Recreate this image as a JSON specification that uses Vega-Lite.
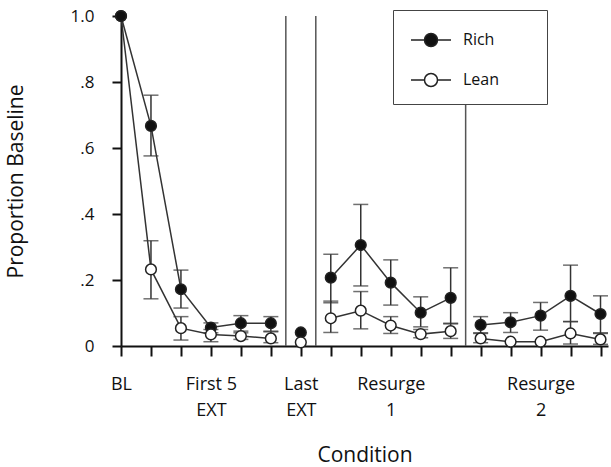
{
  "$schema": "https://vega.github.io/schema/vega-lite/v6.json",
  "width": 487,
  "height": 330,
  "autosize": "none",
  "padding": {"left": 121, "top": 16, "right": 3, "bottom": 121},
  "background": "white",
  "config": {
    "view": {"stroke": null},
    "font": "Open Sans",
    "axis": {
      "grid": false,
      "domainColor": "#111",
      "tickColor": "#111",
      "domainWidth": 2,
      "tickWidth": 2,
      "labelColor": "#111",
      "titleColor": "#111",
      "labelFont": "Open Sans",
      "titleFont": "Open Sans",
      "titleFontWeight": "normal"
    }
  },
  "resolve": {"axis": {"x": "independent"}},
  "datasets": {
    "pts": [
      {"series": "Rich", "idx": 1, "seg": "a", "v": 0.667, "lo": 0.576, "hi": 0.76},
      {"series": "Rich", "idx": 2, "seg": "a", "v": 0.172, "lo": 0.115, "hi": 0.23},
      {"series": "Rich", "idx": 3, "seg": "a", "v": 0.056, "lo": 0.04, "hi": 0.07},
      {"series": "Rich", "idx": 4, "seg": "a", "v": 0.069, "lo": 0.045, "hi": 0.092},
      {"series": "Rich", "idx": 5, "seg": "a", "v": 0.069, "lo": 0.045, "hi": 0.089},
      {"series": "Rich", "idx": 6, "seg": "b", "v": 0.041, "lo": null, "hi": null},
      {"series": "Rich", "idx": 7, "seg": "c", "v": 0.207, "lo": 0.131, "hi": 0.278},
      {"series": "Rich", "idx": 8, "seg": "c", "v": 0.306, "lo": 0.182, "hi": 0.429},
      {"series": "Rich", "idx": 9, "seg": "c", "v": 0.192, "lo": 0.124, "hi": 0.261},
      {"series": "Rich", "idx": 10, "seg": "c", "v": 0.101, "lo": 0.058, "hi": 0.149},
      {"series": "Rich", "idx": 11, "seg": "c", "v": 0.146, "lo": 0.067, "hi": 0.237},
      {"series": "Rich", "idx": 12, "seg": "d", "v": 0.064, "lo": 0.038, "hi": 0.089},
      {"series": "Rich", "idx": 13, "seg": "d", "v": 0.072, "lo": 0.041, "hi": 0.101},
      {"series": "Rich", "idx": 14, "seg": "d", "v": 0.092, "lo": 0.048, "hi": 0.132},
      {"series": "Rich", "idx": 15, "seg": "d", "v": 0.152, "lo": 0.074, "hi": 0.245},
      {"series": "Rich", "idx": 16, "seg": "d", "v": 0.097, "lo": 0.038, "hi": 0.152},
      {"series": "Lean", "idx": 0, "seg": "a", "v": 1.0, "lo": null, "hi": null},
      {"series": "Lean", "idx": 1, "seg": "a", "v": 0.232, "lo": 0.143, "hi": 0.319},
      {"series": "Lean", "idx": 2, "seg": "a", "v": 0.054, "lo": 0.018, "hi": 0.089},
      {"series": "Lean", "idx": 3, "seg": "a", "v": 0.035, "lo": 0.013, "hi": 0.05},
      {"series": "Lean", "idx": 4, "seg": "a", "v": 0.03, "lo": 0.02, "hi": 0.04},
      {"series": "Lean", "idx": 5, "seg": "a", "v": 0.023, "lo": 0.01, "hi": 0.043},
      {"series": "Lean", "idx": 6, "seg": "b", "v": 0.011, "lo": null, "hi": null},
      {"series": "Lean", "idx": 7, "seg": "c", "v": 0.084, "lo": 0.041, "hi": 0.136},
      {"series": "Lean", "idx": 8, "seg": "c", "v": 0.107, "lo": 0.052, "hi": 0.165},
      {"series": "Lean", "idx": 9, "seg": "c", "v": 0.062, "lo": 0.038, "hi": 0.089},
      {"series": "Lean", "idx": 10, "seg": "c", "v": 0.036, "lo": 0.025, "hi": 0.05},
      {"series": "Lean", "idx": 11, "seg": "c", "v": 0.045, "lo": 0.023, "hi": 0.069},
      {"series": "Lean", "idx": 12, "seg": "d", "v": 0.023, "lo": 0.01, "hi": 0.04},
      {"series": "Lean", "idx": 13, "seg": "d", "v": 0.013, "lo": null, "hi": null},
      {"series": "Lean", "idx": 14, "seg": "d", "v": 0.013, "lo": null, "hi": null},
      {"series": "Lean", "idx": 15, "seg": "d", "v": 0.038, "lo": 0.006, "hi": 0.074},
      {"series": "Lean", "idx": 16, "seg": "d", "v": 0.02, "lo": 0.005, "hi": 0.04},
      {"series": "Rich", "idx": 0, "seg": "a", "v": 1.0, "lo": null, "hi": null}
    ],
    "seps": [
      {"idx": 5.5, "top": 1.0},
      {"idx": 6.5, "top": 1.0},
      {"idx": 11.5, "top": 0.74}
    ]
  },
  "layer": [
    {
      "data": {"name": "seps"},
      "mark": {"type": "rule", "color": "#555", "strokeWidth": 1.5},
      "encoding": {
        "x": {
          "field": "idx", "type": "quantitative",
          "scale": {"domain": [0, 16.25], "nice": false, "zero": false},
          "axis": {
            "orient": "bottom",
            "title": null,
            "values": [0,1,2,3,4,5,6,7,8,9,10,11,12,13,14,15,16],
            "labels": false,
            "tickSize": 10
          }
        },
        "y": {
          "field": "top", "type": "quantitative",
          "scale": {"domain": [0, 1], "nice": false},
          "axis": {
            "title": "Proportion Baseline",
            "values": [0, 0.2, 0.4, 0.6, 0.8, 1.0],
            "labelExpr": "datum.value == 0 ? '0' : datum.value == 1 ? '1.0' : replace(format(datum.value, '.1f'), '0.', '.')",
            "labelFontSize": 17,
            "labelPadding": 18,
            "tickSize": 9,
            "titleFontSize": 21,
            "titlePadding": 44
          }
        },
        "y2": {"datum": 0}
      }
    },
    {
      "data": {"name": "pts"},
      "mark": {"type": "line", "color": "#333", "strokeWidth": 1.5},
      "encoding": {
        "x": {
          "field": "idx", "type": "quantitative",
          "axis": {
            "orient": "bottom",
            "title": "Condition",
            "values": [0, 3, 6, 9, 14],
            "domain": false,
            "ticks": false,
            "labelExpr": "datum.value == 0 ? ['BL'] : datum.value == 3 ? ['First 5', 'EXT'] : datum.value == 6 ? ['Last', 'EXT'] : datum.value == 9 ? ['Resurge', '1'] : ['Resurge', '2']",
            "labelAlign": "center",
            "labelBaseline": "top",
            "labelFontSize": 18,
            "labelLineHeight": 26,
            "labelPadding": 29,
            "labelOverlap": false,
            "labelFlush": false,
            "titleFontSize": 21,
            "titlePadding": 25
          }
        },
        "y": {"field": "v", "type": "quantitative"},
        "detail": [{"field": "series"}, {"field": "seg"}]
      }
    },
    {
      "data": {"name": "pts"},
      "transform": [{"filter": "isValid(datum.hi)"}],
      "mark": {"type": "rule", "color": "#333", "strokeWidth": 1.5},
      "encoding": {
        "x": {"field": "idx", "type": "quantitative", "axis": null},
        "y": {"field": "lo", "type": "quantitative"},
        "y2": {"field": "hi"}
      }
    },
    {
      "data": {"name": "pts"},
      "transform": [{"filter": "isValid(datum.hi)"}],
      "mark": {"type": "tick", "orient": "horizontal", "color": "#333", "size": 15, "thickness": 1.5},
      "encoding": {
        "x": {"field": "idx", "type": "quantitative", "axis": null},
        "y": {"field": "hi", "type": "quantitative"}
      }
    },
    {
      "data": {"name": "pts"},
      "transform": [{"filter": "isValid(datum.lo)"}],
      "mark": {"type": "tick", "orient": "horizontal", "color": "#333", "size": 15, "thickness": 1.5},
      "encoding": {
        "x": {"field": "idx", "type": "quantitative", "axis": null},
        "y": {"field": "lo", "type": "quantitative"}
      }
    },
    {
      "data": {"name": "pts"},
      "mark": {"type": "point", "shape": "circle", "filled": true, "size": 115, "stroke": "#222", "strokeWidth": 1.5, "opacity": 1},
      "encoding": {
        "x": {"field": "idx", "type": "quantitative", "axis": null},
        "y": {"field": "v", "type": "quantitative"},
        "fill": {
          "field": "series", "type": "nominal",
          "scale": {"domain": ["Rich", "Lean"], "range": ["#111", "#ffffff"]},
          "legend": {
            "title": null,
            "orient": "none",
            "legendX": 272,
            "legendY": -6,
            "direction": "vertical",
            "symbolType": "M-0.8,0H0.1M0.967,0H1.867M0.967,0A0.433,0.433 0 1,1 0.1,0A0.433,0.433 0 1,1 0.967,0ZM7.1,0",
            "symbolSize": 900,
            "symbolStrokeColor": "#222",
            "symbolStrokeWidth": 1.5,
            "symbolOpacity": 1,
            "labelFontSize": 16,
            "labelColor": "#111",
            "labelFont": "Open Sans",
            "labelOffset": 24,
            "padding": 14,
            "rowPadding": 14,
            "strokeColor": "#444",
            "fillColor": "white"
          }
        }
      }
    }
  ]
}
